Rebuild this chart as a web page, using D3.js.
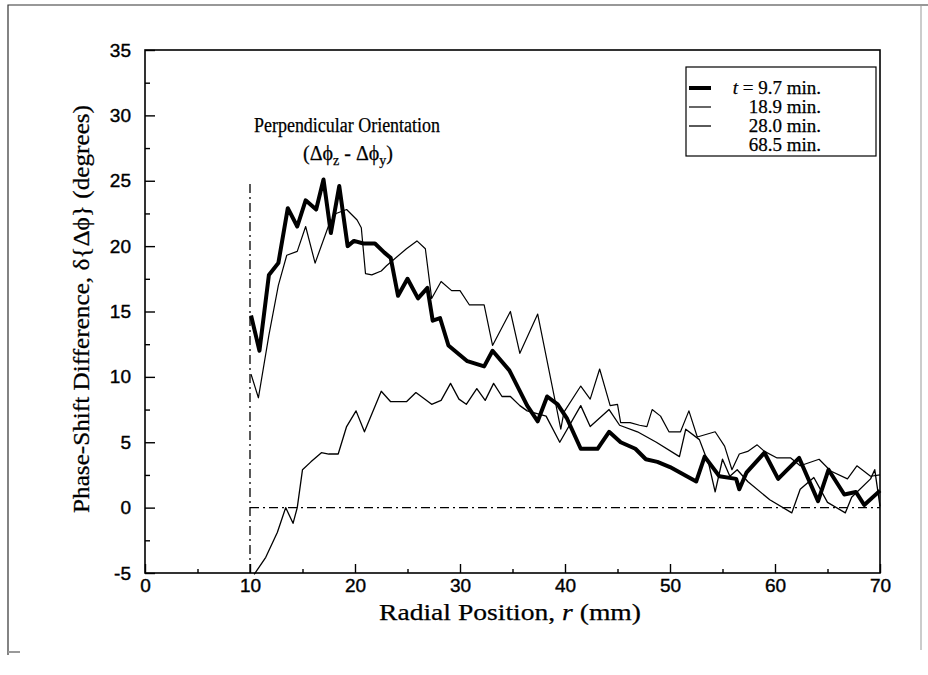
<!DOCTYPE html>
<html><head><meta charset="utf-8">
<script src="https://cdn.jsdelivr.net/npm/d3@7"></script>
<style>body{margin:0;background:#fff}svg{display:block}</style>
</head><body>
<svg id="c" width="928" height="675"></svg>
<script>
// ---- data ----
const seriesNames = ["9.7 min.", "18.9 min.", "28.0 min.", "68.5 min."];
const xTicks = [0, 10, 20, 30, 40, 50, 60, 70];
const yTicks = [-5, 0, 5, 10, 15, 20, 25, 30, 35];

// t = 9.7 min (thick)
const rA = [10.1, 10.9, 11.8, 12.7, 13.6, 14.5, 15.3, 16.3, 17.0, 17.7, 18.5, 19.3, 19.9, 20.8, 21.9, 22.8, 23.4, 24.1, 25.0, 26.0, 26.9, 27.4, 28.1, 28.9, 30.7, 32.3, 33.1, 34.7, 36.4, 37.4, 38.3, 39.3, 40.2, 41.5, 43.1, 44.2, 45.3, 46.7, 47.7, 48.8, 50.0, 52.5, 53.3, 54.7, 56.3, 56.6, 57.3, 59.0, 60.3, 62.3, 64.1, 65.1, 66.6, 67.7, 68.5, 70.0];
const vA = [14.7, 12.0, 17.8, 18.7, 22.9, 21.5, 23.5, 22.8, 25.1, 21.0, 24.6, 20.0, 20.4, 20.2, 20.2, 19.5, 19.1, 16.2, 17.5, 16.0, 16.8, 14.3, 14.5, 12.4, 11.2, 10.8, 12.0, 10.5, 7.8, 6.6, 8.5, 7.9, 6.8, 4.5, 4.5, 5.8, 5.0, 4.5, 3.7, 3.5, 3.1, 2.0, 3.9, 2.4, 2.2, 1.4, 2.7, 4.2, 2.2, 3.8, 0.5, 2.9, 1.0, 1.2, 0.2, 1.3];

// 18.9 min
const rB = [10.1, 10.8, 11.8, 12.7, 13.5, 14.5, 15.3, 16.2, 17.5, 18.2, 19.2, 20.2, 20.6, 21.0, 21.6, 22.5, 23.0, 24.9, 25.9, 26.7, 27.3, 28.2, 29.2, 30.0, 30.9, 32.3, 33.1, 34.8, 35.7, 37.4, 39.6, 39.9, 41.5, 42.4, 43.3, 44.3, 45.0, 45.3, 46.2, 47.1, 47.8, 48.3, 49.1, 49.9, 51.0, 51.8, 52.6, 54.3, 55.2, 55.9, 56.6, 57.4, 58.3, 59.0, 60.2, 61.5, 62.4, 64.2, 65.3, 66.9, 67.8, 69.1, 70.0];
const vB = [10.2, 8.4, 13.2, 17.0, 19.3, 19.6, 21.5, 18.7, 21.6, 22.5, 22.8, 22.0, 21.4, 17.9, 17.8, 18.1, 18.5, 19.8, 20.4, 19.8, 16.0, 17.3, 16.6, 16.6, 15.5, 15.5, 12.4, 15.0, 11.8, 14.8, 6.0, 7.3, 9.3, 8.3, 10.6, 7.8, 7.9, 6.5, 6.5, 6.3, 6.2, 7.5, 7.0, 5.8, 5.8, 7.4, 5.4, 5.8, 4.7, 2.9, 4.1, 4.3, 4.8, 4.3, 3.8, 3.8, 3.2, 3.7, 2.8, 2.2, 3.2, 2.4, 2.5];

// 28.0 min
const rC = [10.4, 11.5, 12.6, 13.4, 14.1, 14.5, 15.0, 15.8, 16.8, 17.5, 18.4, 19.2, 20.1, 20.9, 22.5, 23.4, 24.9, 25.8, 27.3, 28.2, 29.1, 29.9, 30.6, 31.6, 32.4, 33.2, 34.0, 34.8, 35.7, 36.4, 38.2, 39.5, 41.5, 42.4, 44.2, 45.2, 46.9, 48.7, 50.9, 51.5, 52.8, 53.7, 54.3, 55.0, 55.7, 56.4, 57.4, 59.5, 61.6, 62.4, 63.7, 65.0, 66.7, 67.3, 69.1, 69.5, 70.0];
const vC = [-5.1, -3.8, -1.9, 0.0, -1.2, 0.0, 2.9, 3.5, 4.2, 4.1, 4.1, 6.2, 7.4, 5.8, 8.9, 8.1, 8.1, 8.8, 7.9, 8.2, 9.5, 8.3, 7.9, 9.1, 8.2, 9.5, 8.5, 8.5, 7.8, 7.4, 7.0, 5.0, 7.8, 6.2, 7.5, 6.3, 5.8, 5.0, 3.9, 6.0, 5.2, 3.3, 1.2, 3.7, 2.4, 2.9, 2.0, 0.6, -0.4, 1.4, 2.3, 0.4, -0.4, 0.8, 2.2, 2.9, 0.1];

// 68.5 min (dash-dot, flat at zero)
const rD = [10, 20, 30, 40, 50, 60, 70];
const vD = [0, 0, 0, 0, 0, 0, 0];

// vertical reference line at r = 10
const refR = [10, 10];
const refV = [-5, 25];

// ---- drawing ----
const svg = d3.select("#c");
const L = 145, R = 880, T = 50, B = 573;
const x = d3.scaleLinear().domain([0, 70]).range([L, R]);
const y = d3.scaleLinear().domain([-5, 35]).range([B, T]);
const serif = "'Liberation Serif','Times New Roman',serif";
const sans = "'Liberation Sans',Arial,sans-serif";

// outer frame
svg.append("path").attr("d", "M8,655 L8,5 L928,5").attr("fill", "none").attr("stroke", "#333").attr("stroke-width", 1.2);
svg.append("line").attr("x1", 921).attr("x2", 921).attr("y1", 5).attr("y2", 650).attr("stroke", "#999").attr("stroke-width", 1);
svg.append("line").attr("x1", 8).attr("x2", 20).attr("y1", 652).attr("y2", 652).attr("stroke", "#999").attr("stroke-width", 2);

// axes (ticks inward)
const fmt = d => String(d);
const gx = svg.append("g").attr("transform", `translate(0,${B})`)
  .call(d3.axisBottom(x).tickValues(xTicks).tickSize(-9).tickPadding(6).tickFormat(fmt));
const gx2 = svg.append("g").attr("transform", `translate(0,${B})`)
  .call(d3.axisBottom(x).tickValues(xTicks.slice(0, -1).map(d => d + 5)).tickSize(-4).tickFormat(""));
const gy = svg.append("g").attr("transform", `translate(${L},0)`)
  .call(d3.axisLeft(y).tickValues(yTicks).tickSize(-10).tickPadding(14).tickFormat(fmt));
const gy2 = svg.append("g").attr("transform", `translate(${L},0)`)
  .call(d3.axisLeft(y).tickValues(yTicks.slice(0, -1).map(d => d + 2.5)).tickSize(-5).tickFormat(""));
[gx, gx2, gy, gy2].forEach(g => {
  g.select(".domain").remove();
  g.selectAll(".tick line").attr("stroke", "#000").attr("stroke-width", 1.4);
  g.selectAll("text").attr("font-family", sans).attr("font-size", 19).attr("fill", "#000")
    .attr("stroke", "#000").attr("stroke-width", 0.4);
});

// frame
svg.append("rect").attr("x", L).attr("y", T).attr("width", R - L).attr("height", B - T)
  .attr("fill", "none").attr("stroke", "#000").attr("stroke-width", 1.6);

const line = d3.line().x(d => x(d[0])).y(d => y(d[1]));
const zip = (a, b) => a.map((v, i) => [v, b[i]]);

// reference dash-dot lines
svg.append("path").datum(zip(refR, refV)).attr("d", line).attr("fill", "none")
  .attr("stroke", "#000").attr("stroke-width", 1.3).attr("stroke-dasharray", "9,4,2,4");
svg.append("path").datum(zip(rD, vD)).attr("d", line).attr("fill", "none")
  .attr("stroke", "#000").attr("stroke-width", 1.3).attr("stroke-dasharray", "9,4,2,4");

svg.append("path").datum(zip(rC, vC)).attr("d", line).attr("fill", "none")
  .attr("stroke", "#000").attr("stroke-width", 1.3).attr("stroke-linejoin", "round");
svg.append("path").datum(zip(rB, vB)).attr("d", line).attr("fill", "none")
  .attr("stroke", "#000").attr("stroke-width", 1.2).attr("stroke-linejoin", "round");
svg.append("path").datum(zip(rA, vA)).attr("d", line).attr("fill", "none")
  .attr("stroke", "#000").attr("stroke-width", 4).attr("stroke-linejoin", "round");

const heavy = s => s.attr("stroke", "#000").attr("stroke-width", 0.25);

// annotation
heavy(svg.append("text").attr("x", 347).attr("y", 132).attr("text-anchor", "middle")
  .attr("font-family", serif).attr("font-size", 20).attr("textLength", 186).attr("lengthAdjust", "spacingAndGlyphs")
  .text("Perpendicular Orientation"));
const ann = heavy(svg.append("text").attr("x", 348).attr("y", 160).attr("text-anchor", "middle")
  .attr("font-family", serif).attr("font-size", 20));
ann.append("tspan").text("(Δϕ");
ann.append("tspan").attr("font-size", 14).attr("dy", 5).text("z");
ann.append("tspan").attr("dy", -5).text(" - Δϕ");
ann.append("tspan").attr("font-size", 14).attr("dy", 5).text("y");
ann.append("tspan").attr("dy", -5).text(")");

// axis titles
const xt = heavy(svg.append("text").attr("x", 510).attr("y", 620).attr("text-anchor", "middle")
  .attr("font-family", serif).attr("font-size", 23).attr("textLength", 262).attr("lengthAdjust", "spacingAndGlyphs"));
xt.append("tspan").text("Radial Position, ");
xt.append("tspan").attr("font-style", "italic").text("r");
xt.append("tspan").text(" (mm)");

heavy(svg.append("text").attr("transform", "translate(89,309) rotate(-90)").attr("text-anchor", "middle")
  .attr("font-family", serif).attr("font-size", 23).attr("textLength", 408).attr("lengthAdjust", "spacingAndGlyphs")
  .text("Phase-Shift Difference, δ{Δϕ}  (degrees)"));

// legend
svg.append("rect").attr("x", 686).attr("y", 67).attr("width", 190).attr("height", 89)
  .attr("fill", "#fff").attr("stroke", "#000").attr("stroke-width", 1.2);
const rowsY = [88, 107, 126, 145];
const widths = [4, 1.2, 1.3, 0];
seriesNames.forEach((n, i) => {
  if (widths[i] > 0) {
    svg.append("line").attr("x1", 689).attr("x2", 711).attr("y1", rowsY[i]).attr("y2", rowsY[i])
      .attr("stroke", "#000").attr("stroke-width", widths[i]);
  }
  const t = heavy(svg.append("text").attr("x", 821).attr("y", rowsY[i] + 6).attr("text-anchor", "end")
    .attr("font-family", serif).attr("font-size", 19));
  if (i === 0) { t.append("tspan").attr("font-style", "italic").text("t"); t.append("tspan").text(" = " + n); }
  else t.text(n);
});
</script>
</body></html>
